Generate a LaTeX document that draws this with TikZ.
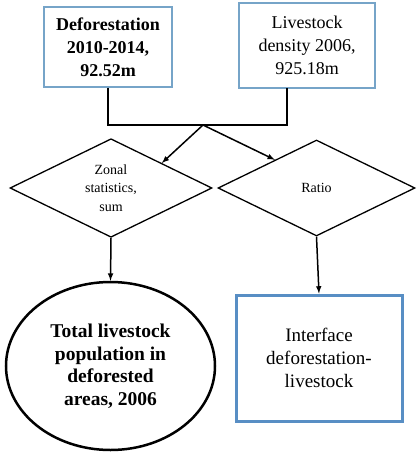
\documentclass[tikz,border=0pt]{standalone}
\usepackage{fontspec}
\setmainfont{Liberation Serif}
\usetikzlibrary{shapes.geometric,positioning,calc}
\tikzset{>=latex}
\definecolor{lightblue}{RGB}{118,164,200}
\definecolor{darkblue}{RGB}{88,142,196}
\tikzset{
  inbox/.style={draw=lightblue,line width=1.3pt,align=center,inner sep=0pt},
  choice/.style={diamond,draw,line width=1.3pt,align=center,inner sep=0pt,
    font=\fontsize{14}{18.5}\selectfont},
  link/.style={line width=1.5pt}
}

\begin{document}
\begin{tikzpicture}[x=1pt,y=-1pt]
\useasboundingbox (0,0) rectangle (416,453);
% inputs
\node[inbox,minimum width=128pt,minimum height=80pt,font=\fontsize{18}{23}\selectfont\bfseries] (defor) at (108,47) {Deforestation\\2010-2014,\\92.52m};
\node[inbox,minimum width=136pt,minimum height=85pt,font=\fontsize{18}{23}\selectfont] (lives) at (307,45.5) {Livestock\\density 2006,\\925.18m};
% operations
\node[choice,minimum width=202pt,minimum height=97pt] (zonal) at (111,188) {Zonal\\statistics,\\sum};
\node[choice,minimum width=197pt,minimum height=96pt] (ratio) at (316.5,188) {Ratio};
% outputs
\node[ellipse,draw,line width=2.5pt,minimum width=209pt,minimum height=168pt,align=center,inner sep=0pt,font=\fontsize{19.5}{22.5}\selectfont\bfseries] (total) at (110.5,366) {Total livestock\\population in\\deforested\\areas, 2006};
\node[draw=darkblue,line width=3pt,minimum width=166pt,minimum height=126pt,align=center,inner sep=0pt,font=\fontsize{19}{23}\selectfont] (iface) at (319,358) {Interface\\deforestation-\\livestock};
% connectors
\coordinate (join) at (203,125);
\coordinate (livesfoot) at (287,88);
\draw[link] (defor.south) |- (join);
\draw[link] (livesfoot) |- (join);
\draw[link,->] (join) -- (zonal.north east);
\draw[link,->] (join) -- ($(ratio.west)!0.58!(ratio.north)$);
\draw[link,->] (zonal.south) -- (total.north);
\draw[link,->] (ratio.south) -- (iface.north);
\end{tikzpicture}
\end{document}
